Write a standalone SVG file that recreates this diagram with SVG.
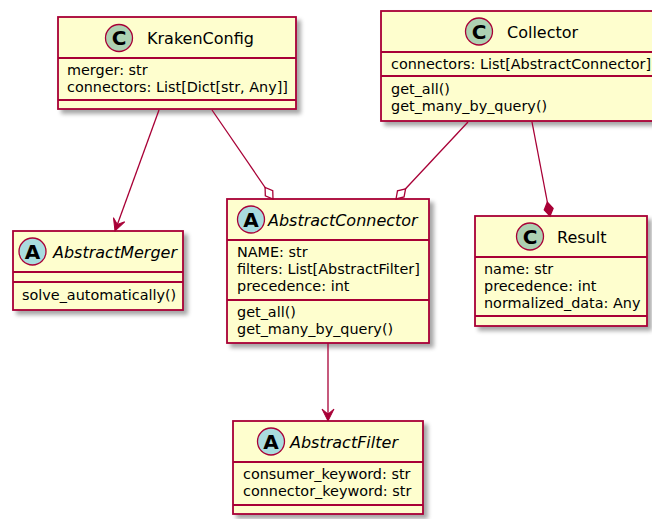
<svg xmlns="http://www.w3.org/2000/svg" width="652" height="519" viewBox="0 0 652 519">
<style>
.box{fill:#FEFECE;stroke:#A80036;stroke-width:1.8;filter:url(#sh)}
.sep{stroke:#A80036;stroke-width:1.8}
.cC{fill:#ADD1B2;stroke:#A80036;stroke-width:1.3}
.cA{fill:#A9DCDF;stroke:#A80036;stroke-width:1.3}
.glyph{font-family:"DejaVu Sans",sans-serif;font-weight:bold;font-size:20px;text-anchor:middle;fill:#000}
.name{font-family:"DejaVu Sans",sans-serif;font-size:16px;fill:#000}
.abs{font-style:italic}
.attr{font-family:"DejaVu Sans",sans-serif;font-size:14.4px;fill:#000}
.con path.l{fill:none;stroke:#A80036;stroke-width:1.3}
</style>
<defs>
<filter id="sh" x="-10%" y="-10%" width="130%" height="130%">
<feGaussianBlur in="SourceAlpha" stdDeviation="2"/>
<feOffset dx="4" dy="4" result="o"/>
<feComponentTransfer><feFuncA type="linear" slope="0.35"/></feComponentTransfer>
<feMerge><feMergeNode/><feMergeNode in="SourceGraphic"/></feMerge>
</filter>
<marker id="arr" markerUnits="userSpaceOnUse" markerWidth="20" markerHeight="20" refX="0" refY="0" orient="auto" overflow="visible">
<path d="M0,0 L-12,-6 L-7,0 L-12,6 Z" fill="#A80036" stroke="#A80036" stroke-width="1"/>
</marker>
<marker id="dia" markerUnits="userSpaceOnUse" markerWidth="20" markerHeight="20" refX="0" refY="0" orient="auto" overflow="visible">
<path d="M0,0 L-7,-4.5 L-14,0 L-7,4.5 Z" fill="#FFFFFF" stroke="#A80036" stroke-width="1.3"/>
</marker>
<marker id="comp" markerUnits="userSpaceOnUse" markerWidth="20" markerHeight="20" refX="0" refY="0" orient="auto" overflow="visible">
<path d="M0,0 L-7,-4.5 L-14,0 L-7,4.5 Z" fill="#A80036" stroke="#A80036" stroke-width="1.3"/>
</marker>
</defs>

<g id="KrakenConfig">
<rect class="box" x="58" y="17" width="238" height="92"/>
<circle class="cC" cx="119" cy="38" r="13.5"/>
<text class="glyph" x="119" y="45">C</text>
<text class="name" x="147" y="44">KrakenConfig</text>
<line class="sep" x1="58" y1="58" x2="296" y2="58"/>
<text class="attr" x="67" y="75">merger: str</text>
<text class="attr" x="67" y="92">connectors: List[Dict[str, Any]]</text>
<line class="sep" x1="58" y1="100" x2="296" y2="100"/>
</g>

<g id="Collector">
<rect class="box" x="381" y="11" width="285" height="110"/>
<circle class="cC" cx="479" cy="31.5" r="13.5"/>
<text class="glyph" x="479" y="38.5">C</text>
<text class="name" x="507" y="37.5">Collector</text>
<line class="sep" x1="381" y1="52" x2="666" y2="52"/>
<text class="attr" x="391" y="69">connectors: List[AbstractConnector]</text>
<line class="sep" x1="381" y1="76" x2="666" y2="76"/>
<text class="attr" x="391" y="94">get_all()</text>
<text class="attr" x="391" y="111">get_many_by_query()</text>
</g>

<g id="AbstractMerger">
<rect class="box" x="13" y="231" width="170" height="79"/>
<circle class="cA" cx="32.5" cy="251.5" r="13.5"/>
<text class="glyph" x="32.5" y="258.5">A</text>
<text class="name abs" x="53" y="257.5">AbstractMerger</text>
<line class="sep" x1="13" y1="272" x2="183" y2="272"/>
<line class="sep" x1="13" y1="282" x2="183" y2="282"/>
<text class="attr" x="22" y="300">solve_automatically()</text>
</g>

<g id="AbstractConnector">
<rect class="box" x="227" y="199" width="202" height="144"/>
<circle class="cA" cx="251" cy="219.5" r="13.5"/>
<text class="glyph" x="251" y="226.5">A</text>
<text class="name abs" x="268" y="225.5">AbstractConnector</text>
<line class="sep" x1="227" y1="240" x2="429" y2="240"/>
<text class="attr" x="237" y="257">NAME: str</text>
<text class="attr" x="237" y="274">filters: List[AbstractFilter]</text>
<text class="attr" x="237" y="291">precedence: int</text>
<line class="sep" x1="227" y1="300" x2="429" y2="300"/>
<text class="attr" x="237" y="317">get_all()</text>
<text class="attr" x="237" y="334">get_many_by_query()</text>
</g>

<g id="Result">
<rect class="box" x="475" y="216" width="172" height="110"/>
<circle class="cC" cx="530" cy="236.5" r="13.5"/>
<text class="glyph" x="530" y="243.5">C</text>
<text class="name" x="557" y="242.5">Result</text>
<line class="sep" x1="475" y1="257" x2="647" y2="257"/>
<text class="attr" x="484" y="274">name: str</text>
<text class="attr" x="484" y="291">precedence: int</text>
<text class="attr" x="484" y="308">normalized_data: Any</text>
<line class="sep" x1="475" y1="316" x2="647" y2="316"/>
</g>

<g id="AbstractFilter">
<rect class="box" x="233" y="421" width="190" height="93"/>
<circle class="cA" cx="271" cy="441.5" r="13.5"/>
<text class="glyph" x="271" y="448.5">A</text>
<text class="name abs" x="290" y="447.5">AbstractFilter</text>
<line class="sep" x1="233" y1="462" x2="423" y2="462"/>
<text class="attr" x="243" y="479">consumer_keyword: str</text>
<text class="attr" x="243" y="496">connector_keyword: str</text>
<line class="sep" x1="233" y1="505" x2="423" y2="505"/>
</g>

<g id="connectors" class="con">
<path class="l" d="M159,110 L115,231" marker-end="url(#arr)"/>
<path class="l" d="M212,110 L273,199" marker-end="url(#dia)"/>
<path class="l" d="M468,122 L396,199" marker-end="url(#dia)"/>
<path class="l" d="M532,122 L550,216" marker-end="url(#comp)"/>
<path class="l" d="M328,343 L328,421" marker-end="url(#arr)"/>
</g>
</svg>
